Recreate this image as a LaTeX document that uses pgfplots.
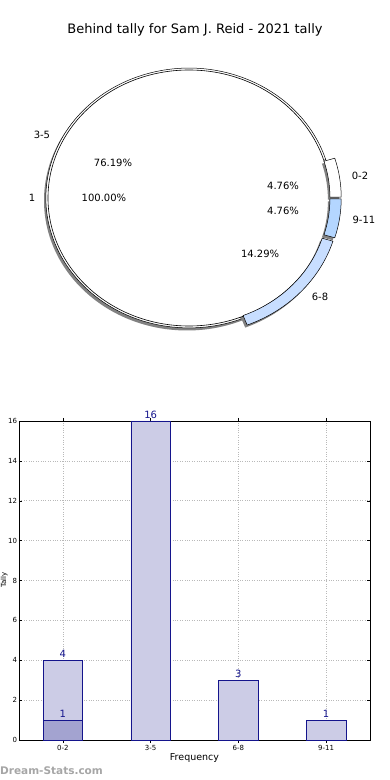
\documentclass[border=0pt]{standalone}
\usepackage{pgfplots}
\pgfplotsset{compat=1.18}
\usepackage{pgfplotstable}
\usepackage{fontspec}
\setmainfont{DejaVu Sans}

\definecolor{barfill}{RGB}{204,204,230}
\definecolor{barfilldark}{RGB}{163,163,208}
\definecolor{baredge}{RGB}{20,20,140}
\definecolor{slblue}{RGB}{180,214,255}
\definecolor{sllight}{RGB}{200,222,255}
\definecolor{shadowc}{RGB}{130,130,130}

% bar chart data
\pgfplotstableread{
x total
0 4
1 16
2 3
3 1
}\bartotal
\pgfplotstableread{
x part
0 1
}\barpart

% ring segment: #1 start angle, #2 end angle, #3 inner r, #4 outer r, #5 explode, #6 style
\newcommand\seg[6]{%
  \pgfmathsetmacro\segmid{(#1+#2)/2}%
  \pgfmathsetmacro\segex{#5*cos(\segmid)}%
  \pgfmathsetmacro\segey{#5*sin(\segmid)}%
  \pgfmathsetmacro\segax{\segex+#4*cos(#1)}%
  \pgfmathsetmacro\segay{\segey+#4*sin(#1)}%
  \pgfmathsetmacro\segbx{\segex+#3*cos(#2)}%
  \pgfmathsetmacro\segby{\segey+#3*sin(#2)}%
  \pgfmathsetmacro\segrox{#4*141}%
  \pgfmathsetmacro\segroy{#4*128}%
  \pgfmathsetmacro\segrix{#3*141}%
  \pgfmathsetmacro\segriy{#3*128}%
  \edef\segtmp{\noexpand\filldraw[#6] (axis cs:\segax,\segay) arc[start angle=#1, end angle=#2, x radius=\segrox pt, y radius=\segroy pt] -- (axis cs:\segbx,\segby) arc[start angle=#2, end angle=#1, x radius=\segrix pt, y radius=\segriy pt] -- cycle;}%
  \segtmp}

\begin{document}
\begin{tikzpicture}
\useasboundingbox (0,0) rectangle (390pt,780pt);

% pie slice values (percent): 0-2, 3-5, 6-8, 9-11
\pgfmathsetmacro\pA{4.76}
\pgfmathsetmacro\pB{76.19}
\pgfmathsetmacro\pC{14.29}
\pgfmathsetmacro\pD{4.76}
\pgfmathsetmacro\aA{3.6*\pA}
\pgfmathsetmacro\aB{\aA+3.6*\pB}
\pgfmathsetmacro\aC{\aB+3.6*\pC}
\pgfmathsetmacro\aD{\aC+3.6*\pD}

\node at (195pt,750pt) {\fontsize{13}{15}\selectfont Behind tally for Sam J. Reid - 2021 tally};

\begin{axis}[at={(189pt,582pt)}, anchor=center, x=141pt, y=128pt,
  xmin=-1.3, xmax=1.3, ymin=-1.3, ymax=1.3, hide axis, clip=false]
  % shadow of the whole pie
  \fill[shadowc] ([xshift=-2pt,yshift=-2.5pt]axis cs:0,0) ellipse[x radius=143pt, y radius=130pt];
  % 3-5 ring piece (not exploded)
  \seg{\aA}{\aB}{0.95}{1.015}{0}{fill=white, draw=black, line width=0.5pt}
  % inner pie "1" 100%
  \filldraw[fill=white, draw=black, line width=0.6pt] (axis cs:0,0) ellipse[x radius=141pt, y radius=128pt];
  % exploded ring pieces: shadows
  \begin{scope}[shift={(-2pt,-2.5pt)}]
  \seg{0}{\aA}{0.95}{1.03}{0.05}{fill=shadowc, draw=none}
  \seg{\aB}{\aC}{0.95}{1.03}{0.05}{fill=shadowc, draw=none}
  \seg{\aC}{\aD}{0.95}{1.03}{0.05}{fill=shadowc, draw=none}
  \end{scope}
  \seg{0}{\aA}{0.95}{1.03}{0.05}{fill=white, draw=black, line width=0.5pt}
  \seg{\aB}{\aC}{0.95}{1.03}{0.05}{fill=sllight, draw=black, line width=0.5pt}
  \seg{\aC}{\aD}{0.95}{1.03}{0.05}{fill=slblue, draw=black, line width=0.5pt}
  % labels
  \begin{scope}[every node/.style={font=\fontsize{10}{12}\selectfont}]
  \node at (axis cs:-0.539,0.273) {76.19\%};
  \node at (axis cs:-0.603,0) {100.00\%};
  \node at (axis cs:0.667,0.094) {4.76\%};
  \node at (axis cs:0.667,-0.102) {4.76\%};
  \node at (axis cs:0.504,-0.4375) {14.29\%};
  \node at (axis cs:-1.043,0.492) {3-5};
  \node at (axis cs:-1.113,0) {1};
  \node at (axis cs:1.213,0.172) {0-2};
  \node at (axis cs:1.241,-0.172) {9-11};
  \node at (axis cs:0.929,-0.773) {6-8};
  \end{scope}
\end{axis}

\begin{axis}[at={(19pt,40pt)}, anchor=south west, width=351pt, height=319pt,
  scale only axis, xmin=-0.5, xmax=3.5, ymin=0, ymax=16,
  xtick={0,1,2,3}, xticklabels={0-2,3-5,6-8,9-11},
  ytick={0,2,...,16},
  grid=major, grid style={dotted, gray!55, line width=0.5pt},
  tick align=inside, major tick length=3pt, tick style={black, line width=0.4pt},
  ticklabel style={font=\fontsize{7}{8}\selectfont},
  /pgf/number format/assume math mode=true,
  xticklabel style={yshift=1pt},
  yticklabel style={xshift=1.5pt},
  xlabel={Frequency}, xlabel style={font=\fontsize{9.5}{11}\selectfont, yshift=4pt},
  axis line style={black, line width=0.6pt},
  ybar, bar width=0.45, clip=false,
  nodes near coords,
  nodes near coords style={font=\fontsize{10}{12}\selectfont, color=baredge, inner sep=2.5pt}]
  \addplot[draw=baredge, fill=barfill, bar shift=0pt, line width=0.6pt] table[x=x,y=total]{\bartotal};
  \addplot[draw=baredge, fill=barfilldark, bar shift=0pt, line width=0.6pt] table[x=x,y=part]{\barpart};
\end{axis}

\node[rotate=90, inner sep=0pt, anchor=north] at (0.5pt,200pt) {\fontsize{7}{8}\selectfont Tally};

\node[anchor=west, text=gray!70, inner sep=0pt] at (0pt,9pt) {\fontsize{10.5}{12}\selectfont\bfseries Dream-Stats.com};
\end{tikzpicture}
\end{document}
